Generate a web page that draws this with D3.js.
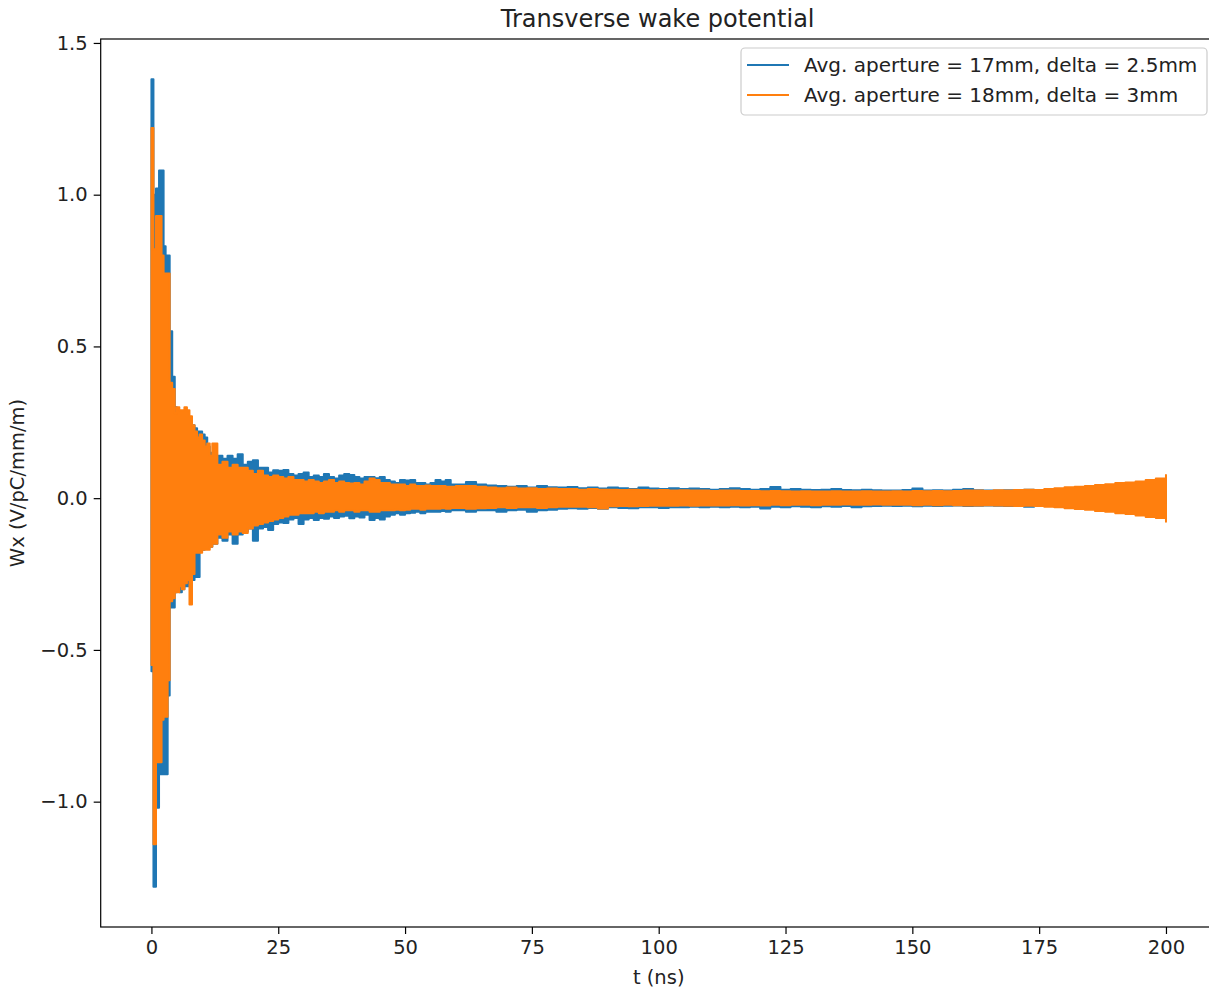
<!DOCTYPE html>
<html>
<head>
<meta charset="utf-8">
<script src="https://cdn.jsdelivr.net/npm/d3@7"></script>
<style>
  html, body { margin: 0; padding: 0; background: #fff; }
  svg { display: block; font-family: "DejaVu Sans", sans-serif; }
</style>
</head>
<body>
<svg id="chart" width="1209" height="992"></svg>
<script>
// ---------- data (envelopes) ----------
const times = [
  0, 0.4, 0.9, 1.5, 2.0, 2.4, 2.8, 3.2, 3.6, 4.1, 4.6, 5.0, 5.5, 6.0, 6.5, 7.0, 7.5, 8.0, 8.5, 9.0, 9.5, 10.0, 10.5, 11, 11.5, 12,
  13, 14, 15, 16, 17, 18, 19, 20, 21, 22, 23, 24, 25, 26, 27, 28, 29, 30, 31, 32, 33, 34, 35, 36, 37, 38, 39, 40,
  41, 42, 43, 44, 45, 46, 47, 48, 49, 50, 51, 52, 53, 54, 55, 56, 57, 58, 59, 60,
  62, 64, 66, 68, 70, 72, 74, 76, 78, 80, 82, 84, 86, 88, 90, 92, 94, 96, 98, 100,
  102, 104, 106, 108, 110, 112, 114, 116, 118, 120, 122, 124, 126, 128, 130, 132, 134, 136, 138, 140,
  142, 144, 146, 148, 150, 152, 154, 156, 158, 160, 162, 164, 166, 168, 170, 172, 174, 176, 178, 180,
  182, 184, 186, 188, 190, 192, 194, 196, 198, 200
];
const blueHi = [
  1.38, 1.00, 1.02, 1.08, 1.08, 0.83, 0.80, 0.80, 0.55, 0.40, 0.30, 0.27, 0.26, 0.27, 0.26, 0.25, 0.25, 0.24, 0.23, 0.22, 0.22, 0.21, 0.20, 0.17, 0.15, 0.14,
  0.14, 0.13, 0.14, 0.13, 0.145, 0.11, 0.12, 0.125, 0.10, 0.10, 0.085, 0.092, 0.09, 0.093, 0.08, 0.075, 0.08, 0.085, 0.07, 0.075, 0.07, 0.08, 0.07, 0.065, 0.075, 0.08, 0.076, 0.07,
  0.065, 0.07, 0.07, 0.066, 0.07, 0.06, 0.055, 0.05, 0.06, 0.058, 0.06, 0.05, 0.05, 0.045, 0.05, 0.06, 0.055, 0.06, 0.045, 0.045,
  0.053, 0.045, 0.042, 0.04, 0.038, 0.04, 0.035, 0.04, 0.036, 0.035, 0.037, 0.033, 0.035, 0.032, 0.035, 0.033, 0.03, 0.035, 0.032, 0.03,
  0.033, 0.03, 0.032, 0.03, 0.028, 0.03, 0.033, 0.03, 0.028, 0.03, 0.037, 0.028, 0.03, 0.028, 0.027, 0.028, 0.03, 0.027, 0.026, 0.028,
  0.026, 0.025, 0.025, 0.027, 0.032, 0.025, 0.026, 0.025, 0.028, 0.03, 0.026, 0.025, 0.025, 0.026, 0.025, 0.028, 0.027, 0.026, 0.028, 0.03,
  0.03, 0.032, 0.034, 0.036, 0.04, 0.042, 0.045, 0.05, 0.055, 0.06
];
const blueLo = [
  -0.57, -1.28, -1.02, -0.91, -0.91, -0.91, -0.91, -0.65, -0.36, -0.36, -0.31, -0.30, -0.31, -0.30, -0.29, -0.29, -0.28, -0.27, -0.26, -0.26, -0.17, -0.17, -0.16, -0.16, -0.16, -0.15,
  -0.13, -0.14, -0.12, -0.15, -0.12, -0.11, -0.10, -0.14, -0.10, -0.095, -0.105, -0.085, -0.08, -0.082, -0.07, -0.065, -0.085, -0.07, -0.065, -0.072, -0.065, -0.068, -0.06, -0.065, -0.06, -0.058, -0.066, -0.06,
  -0.064, -0.055, -0.072, -0.065, -0.07, -0.06, -0.055, -0.05, -0.055, -0.05, -0.048, -0.045, -0.05, -0.045, -0.045, -0.045, -0.042, -0.045, -0.04, -0.04,
  -0.045, -0.04, -0.04, -0.045, -0.04, -0.038, -0.045, -0.04, -0.038, -0.035, -0.033, -0.035, -0.032, -0.035, -0.03, -0.032, -0.033, -0.03, -0.03, -0.032,
  -0.03, -0.03, -0.028, -0.03, -0.028, -0.03, -0.028, -0.03, -0.028, -0.034, -0.028, -0.03, -0.027, -0.028, -0.03, -0.027, -0.028, -0.026, -0.03, -0.027,
  -0.026, -0.025, -0.026, -0.025, -0.027, -0.025, -0.026, -0.025, -0.024, -0.026, -0.025, -0.024, -0.025, -0.026, -0.025, -0.028, -0.025, -0.026, -0.028, -0.03,
  -0.03, -0.032, -0.033, -0.036, -0.04, -0.045, -0.048, -0.05, -0.055, -0.06
];
const orangeHi = [
  1.22, 0.82, 0.93, 0.93, 0.80, 0.74, 0.74, 0.74, 0.38, 0.36, 0.28, 0.30, 0.29, 0.29, 0.30, 0.29, 0.27, 0.24, 0.22, 0.20, 0.21, 0.19, 0.17, 0.18, 0.14, 0.18,
  0.11, 0.12, 0.10, 0.11, 0.10, 0.10, 0.09, 0.08, 0.09, 0.075, 0.07, 0.075, 0.07, 0.065, 0.07, 0.06, 0.06, 0.055, 0.06, 0.055, 0.05, 0.055, 0.06, 0.05, 0.055, 0.05, 0.048, 0.05,
  0.045, 0.055, 0.065, 0.06, 0.05, 0.05, 0.045, 0.045, 0.045, 0.04, 0.045, 0.04, 0.04, 0.042, 0.04, 0.04, 0.04, 0.038, 0.038, 0.04,
  0.04, 0.038, 0.035, 0.033, 0.035, 0.032, 0.033, 0.03, 0.032, 0.03, 0.03, 0.028, 0.03, 0.028, 0.028, 0.027, 0.028, 0.027, 0.026, 0.027,
  0.025, 0.026, 0.025, 0.025, 0.024, 0.025, 0.025, 0.024, 0.024, 0.023, 0.024, 0.023, 0.022, 0.023, 0.022, 0.022, 0.023, 0.022, 0.022, 0.023,
  0.022, 0.022, 0.023, 0.022, 0.024, 0.023, 0.024, 0.023, 0.024, 0.025, 0.025, 0.024, 0.026, 0.025, 0.027, 0.028, 0.027, 0.03, 0.033, 0.036,
  0.038, 0.04, 0.043, 0.046, 0.05, 0.052, 0.055, 0.06, 0.065, 0.076
];
const orangeLo = [
  -0.55, -1.14, -0.87, -0.87, -0.73, -0.72, -0.72, -0.60, -0.34, -0.33, -0.31, -0.31, -0.29, -0.30, -0.28, -0.27, -0.35, -0.25, -0.18, -0.18, -0.18, -0.17, -0.17, -0.17, -0.16, -0.15,
  -0.12, -0.13, -0.11, -0.12, -0.11, -0.115, -0.10, -0.09, -0.085, -0.08, -0.075, -0.07, -0.065, -0.06, -0.055, -0.055, -0.05, -0.05, -0.05, -0.045, -0.05, -0.045, -0.045, -0.04, -0.045, -0.04, -0.04, -0.045,
  -0.04, -0.04, -0.045, -0.045, -0.04, -0.04, -0.04, -0.038, -0.04, -0.038, -0.035, -0.035, -0.038, -0.035, -0.035, -0.035, -0.033, -0.035, -0.032, -0.032,
  -0.035, -0.033, -0.032, -0.03, -0.032, -0.03, -0.03, -0.032, -0.03, -0.028, -0.028, -0.028, -0.03, -0.034, -0.027, -0.026, -0.027, -0.026, -0.025, -0.025,
  -0.025, -0.024, -0.025, -0.024, -0.024, -0.024, -0.023, -0.024, -0.023, -0.024, -0.022, -0.023, -0.022, -0.022, -0.023, -0.022, -0.022, -0.021, -0.022, -0.022,
  -0.021, -0.022, -0.022, -0.022, -0.023, -0.022, -0.023, -0.022, -0.023, -0.024, -0.024, -0.023, -0.024, -0.025, -0.026, -0.025, -0.026, -0.028, -0.03, -0.033,
  -0.036, -0.038, -0.042, -0.045, -0.05, -0.052, -0.057, -0.062, -0.065, -0.078
];
const seriesNames = ["Avg. aperture = 17mm, delta = 2.5mm", "Avg. aperture = 18mm, delta = 3mm"];
const seriesColors = ["#1f77b4", "#ff7f0e"];
const xTicks = [0, 25, 50, 75, 100, 125, 150, 175, 200];
const xTickLabels = ["0", "25", "50", "75", "100", "125", "150", "175", "200"];
const yTicks = [-1.0, -0.5, 0.0, 0.5, 1.0, 1.5];
const yTickLabels = ["\u22121.0", "\u22120.5", "0.0", "0.5", "1.0", "1.5"];
const titleText = "Transverse wake potential";
const xLabelText = "t (ns)";
const yLabelText = "Wx (V/pC/mm/m)";

// ---------- layout ----------
const W = 1209, H = 992;
const plot = { left: 100.7, top: 39, width: 1116, height: 888 };
const FONT = 19.5;
const LEGEND_FONT = 20;

const svg = d3.select("#chart");

// domains with matplotlib-like 5% margins
const tMin = d3.min(times), tMax = d3.max(times);
const tPad = (tMax - tMin) * 0.05;
const allVals = blueHi.concat(blueLo, orangeHi, orangeLo);
const vMin = d3.min(allVals), vMax = d3.max(allVals);
const vPad = (vMax - vMin) * 0.05;

const x = d3.scaleLinear().domain([tMin - tPad, tMax + tPad]).range([plot.left, plot.left + plot.width]);
const y = d3.scaleLinear().domain([vMin - vPad, vMax + vPad]).range([plot.top + plot.height, plot.top]);

svg.append("defs").append("clipPath").attr("id", "clip")
  .append("rect").attr("x", plot.left).attr("y", plot.top).attr("width", plot.width).attr("height", plot.height);

const series = [
  { hi: blueHi, lo: blueLo },
  { hi: orangeHi, lo: orangeLo }
];

const area = d3.area()
  .x(d => x(d.t))
  .y0(d => y(d.lo))
  .y1(d => y(d.hi))
  .curve(d3.curveStepAfter);

const g = svg.append("g").attr("clip-path", "url(#clip)");
series.forEach((s, i) => {
  const pts = times.map((t, k) => ({ t: t, hi: s.hi[k], lo: s.lo[k] }));
  g.append("path")
    .datum(pts)
    .attr("d", area)
    .attr("fill", seriesColors[i])
    .attr("stroke", seriesColors[i])
    .attr("stroke-width", 2)
    .attr("stroke-linejoin", "round");
});

// ---------- axes ----------
const xAxis = d3.axisBottom(x).tickValues(xTicks).tickFormat((d, i) => xTickLabels[i]).tickSize(7).tickPadding(6);
const yAxis = d3.axisLeft(y).tickValues(yTicks).tickFormat((d, i) => yTickLabels[i]).tickSize(7).tickPadding(6);

const gx = svg.append("g").attr("transform", `translate(0,${plot.top + plot.height})`).call(xAxis);
const gy = svg.append("g").attr("transform", `translate(${plot.left},0)`).call(yAxis);
[gx, gy].forEach(a => {
  a.select(".domain").remove();
  a.selectAll(".tick line").attr("stroke", "#000").attr("stroke-width", 1.2);
  a.selectAll(".tick text").attr("fill", "#222").style("font-size", FONT + "px").style("font-family", "DejaVu Sans");
});

// spines
svg.append("rect")
  .attr("x", plot.left).attr("y", plot.top)
  .attr("width", plot.width).attr("height", plot.height)
  .attr("fill", "none").attr("stroke", "#000").attr("stroke-width", 1.2);

// title and labels
svg.append("text").attr("x", plot.left + plot.width / 2 - 1).attr("y", 27)
  .attr("text-anchor", "middle").style("font-size", "24px").attr("fill", "#222").text(titleText);
svg.append("text").attr("x", plot.left + plot.width / 2).attr("y", 984)
  .attr("text-anchor", "middle").style("font-size", FONT + "px").attr("fill", "#222").text(xLabelText);
svg.append("text")
  .attr("transform", `translate(24,${plot.top + plot.height / 2}) rotate(-90)`)
  .attr("text-anchor", "middle").style("font-size", FONT + "px").attr("fill", "#222").text(yLabelText);

// ---------- legend ----------
const lg = svg.append("g");
lg.append("rect").attr("x", 741).attr("y", 48).attr("width", 466).attr("height", 67)
  .attr("rx", 4).attr("fill", "#fff").attr("fill-opacity", 0.8)
  .attr("stroke", "#ccc").attr("stroke-width", 1.2);
seriesNames.forEach((name, i) => {
  const yy = 65 + i * 30;
  lg.append("line").attr("x1", 747).attr("x2", 789).attr("y1", yy).attr("y2", yy)
    .attr("stroke", seriesColors[i]).attr("stroke-width", 2.2);
  lg.append("text").attr("x", 804).attr("y", yy + 7).style("font-size", LEGEND_FONT + "px").attr("fill", "#222").text(name);
});
</script>
</body>
</html>
